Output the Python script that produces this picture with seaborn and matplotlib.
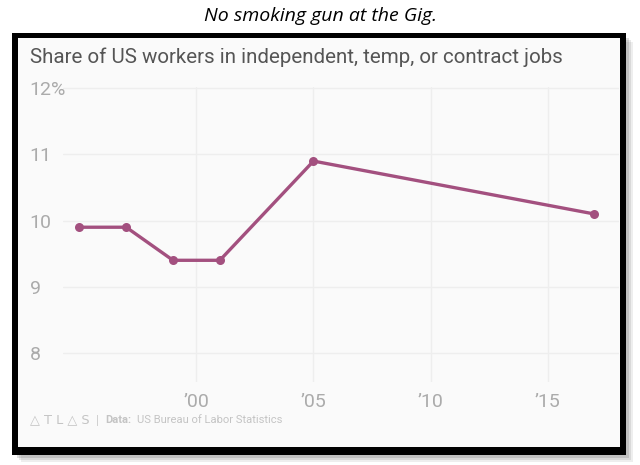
import matplotlib
matplotlib.use("Agg")
import matplotlib.pyplot as plt
import matplotlib.patches as patches
import pandas as pd
import seaborn as sns

years = [1995, 1997, 1999, 2001, 2005, 2017]
share = [9.9, 9.9, 9.4, 9.4, 10.9, 10.1]
x_ticks = [2000, 2005, 2010, 2015]
x_labels = ["\u201900", "\u201905", "\u201910", "\u201915"]
y_ticks = [8, 9, 10, 11, 12]
y_labels = ["8", "9", "10", "11", "12%"]

df = pd.DataFrame({"year": years, "share": share})

sns.set_theme(style="white")
plt.rcParams["font.family"] = ["Roboto", "DejaVu Sans"]

line_col = "#a3507f"
tick_col = "#ababab"

fig = plt.figure(figsize=(6.4, 4.65), dpi=100)
fig.patch.set_facecolor("white")

# shadow + black frame around the chart card
W, H = 640, 465
def box(x0, y0, x1, y1, **kw):
    return patches.Rectangle((x0 / W, 1 - y1 / H), (x1 - x0) / W, (y1 - y0) / H,
                             transform=fig.transFigure, **kw)

for i, a in enumerate([0.10, 0.14, 0.20]):
    d = 7 - 2 * i
    fig.patches.append(box(14 + d, 35 + d, 626 + d, 455 + d, facecolor="#606060",
                           alpha=a, edgecolor="none", zorder=0))
fig.patches.append(box(12, 33, 626, 455, facecolor="black", edgecolor="none", zorder=1))
fig.patches.append(box(18, 38, 620, 447, facecolor="#fafafa", edgecolor="none", zorder=2))

fig.text(0.5, 1 - 16 / H, "No smoking gun at the Gig.", ha="center", va="center",
         fontsize=14, style="italic", family=["Open Sans", "DejaVu Sans"], color="black")

ax = fig.add_axes([63 / W, 1 - 382 / H, (619 - 63) / W, (382 - 87) / H])
ax.set_facecolor("none")
ax.set_zorder(3)

sns.lineplot(data=df, x="year", y="share", ax=ax, color=line_col, linewidth=2.4,
             marker="o", markersize=6.5, markeredgewidth=0, markerfacecolor=line_col)

ax.set_xlim(1994.3, 2018.05)
ax.set_ylim(7.56, 12.02)
ax.set_xticks(x_ticks)
ax.set_xticklabels(x_labels)
ax.set_yticks(y_ticks)
ax.set_yticklabels(y_labels)
ax.set_xlabel("")
ax.set_ylabel("")
for s in ax.spines.values():
    s.set_visible(False)
ax.grid(True, color="#eeeeee", linewidth=1)
ax.set_axisbelow(True)
ax.tick_params(axis="both", length=0, colors=tick_col, labelsize=14)
ax.tick_params(axis="x", pad=8)
for lab in ax.get_yticklabels():
    lab.set_horizontalalignment("left")
ax.tick_params(axis="y", pad=24)

fig.text(30 / W, 1 - 57 / H, "Share of US workers in independent, temp, or contract jobs",
         ha="left", va="center", fontsize=14.8, color="#555555", zorder=5)

foot_y = 1 - 420 / H
fig.text(30 / W, foot_y, "\u25b3 T L \u25b3 S", ha="left", va="center", fontsize=9.3,
         color="#c4c4c4", family=["DejaVu Sans"], zorder=5)
fig.text(96 / W, foot_y, "|", ha="left", va="center", fontsize=8.5, color="#cccccc", zorder=5)
fig.text(105 / W, foot_y, "Data:", ha="left", va="center", fontsize=8,
         fontweight="bold", color="#c4c4c4", zorder=5)
fig.text(137 / W, foot_y, "US Bureau of Labor Statistics", ha="left", va="center",
         fontsize=8.1, color="#c4c4c4", zorder=5)

fig.savefig("out.png", dpi=100)
